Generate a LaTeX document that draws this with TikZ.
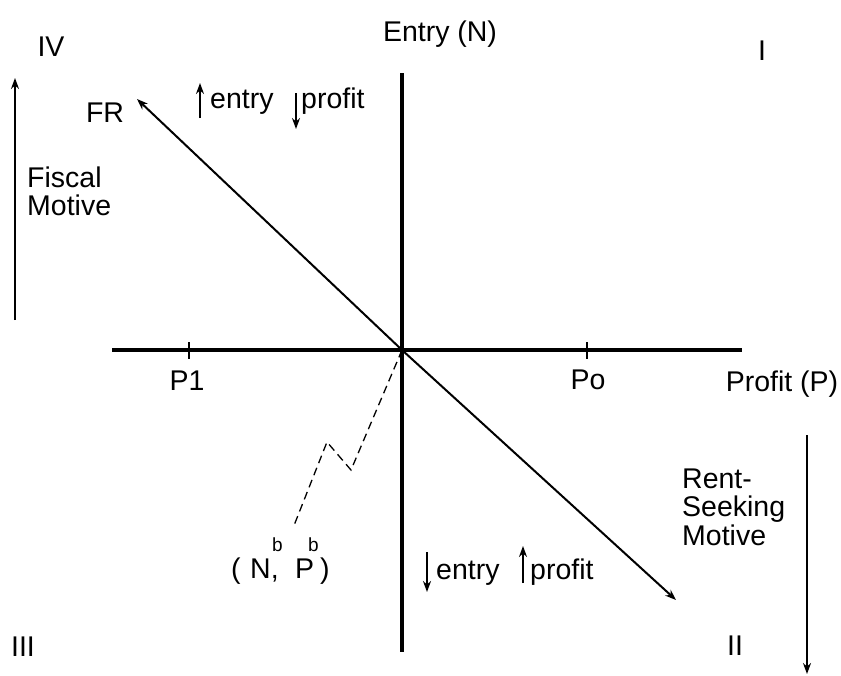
\documentclass[tikz,border=0pt]{standalone}
\usepackage{fontspec}
\setmainfont{Liberation Sans}
\usetikzlibrary{arrows.meta}
\begin{document}
\begin{tikzpicture}[x=1pt,y=-1pt,
  lbl/.style={inner sep=0pt,font=\fontsize{28.5}{28.5}\selectfont},
  sup/.style={inner sep=0pt,font=\fontsize{19}{19}\selectfont},
  axis/.style={line width=4pt},
  arr/.style={line width=2pt,-{Stealth[length=11pt,width=8pt]}},
  small/.style={line width=2pt,-{Stealth[length=11pt,width=8pt]}},
  tick/.style={line width=2pt}]
\useasboundingbox (0,0) rectangle (841,675);
% axes
\coordinate (Vt) at (402,73);
\coordinate (Vb) at (402,652);
\coordinate (Hl) at (112,350);
\coordinate (Hr) at (742,350);
\coordinate (O) at (402,350);
\draw[axis] (Vt) -- (Vb);
\draw[axis] (Hl) -- (Hr);
% ticks
\coordinate (T1a) at (189,342); \coordinate (T1b) at (189,359);
\coordinate (T2a) at (587,342); \coordinate (T2b) at (587,359);
\draw[tick] (T1a) -- (T1b);
\draw[tick] (T2a) -- (T2b);
% labels
\node[lbl,anchor=base] (entryN) at (440,41) {Entry (N)};
\node[lbl,anchor=base] (IV) at (51,56) {IV};
\node[lbl,anchor=base] (I) at (762,60) {I};
\node[lbl,anchor=base] (III) at (23,656) {III};
\node[lbl,anchor=base] (II) at (735,655) {II};
\node[lbl,anchor=base] (FR) at (105,122) {FR};
\node[lbl,anchor=base] (P1) at (187,390) {P1};
\node[lbl,anchor=base] (Po) at (588,389) {Po};
\node[lbl,anchor=base] (profitP) at (782,391) {Profit (P)};
% diagonal
\coordinate (FRend) at (137,99);
\coordinate (IIend) at (676,600);
\draw[arr] (O) -- (FRend);
\draw[arr] (O) -- (IIend);
% motives
\coordinate (FMb) at (15,320); \coordinate (FMt) at (15,78);
\draw[arr] (FMb) -- (FMt);
\node[lbl,anchor=west,align=left,font=\fontsize{28.5}{28}\selectfont] (fiscal) at (27,191) {Fiscal\\Motive};
\coordinate (RMt) at (807,435); \coordinate (RMb) at (807,674);
\draw[arr] (RMt) -- (RMb);
\node[lbl,anchor=west,align=left,font=\fontsize{28.5}{28.5}\selectfont] (rent) at (682,507) {Rent-\\Seeking\\Motive};
% top entry/profit
\coordinate (ua1) at (200,118); \coordinate (ua2) at (200,83);
\draw[small] (ua1) -- (ua2);
\node[lbl,anchor=base west] (topentry) at (210,108) {entry};
\coordinate (da1) at (296,93); \coordinate (da2) at (296,129);
\draw[small] (da1) -- (da2);
\node[lbl,anchor=base west] (topprofit) at (301,108) {profit};
% bottom entry/profit
\coordinate (db1) at (427,552); \coordinate (db2) at (427,592);
\draw[small] (db1) -- (db2);
\node[lbl,anchor=base west] (botentry) at (436,579) {entry};
\coordinate (ub1) at (523,583); \coordinate (ub2) at (523,546);
\draw[small] (ub1) -- (ub2);
\node[lbl,anchor=base west] (botprofit) at (530,579) {profit};
% dashed path
\coordinate (d1) at (351,470);
\coordinate (d2) at (327,442);
\coordinate (d3) at (293,528);
\draw[line width=1.3pt,dash pattern=on 8pt off 5pt] (O) -- (d1) -- (d2) -- (d3);
% (N^b, P^b)
\node[lbl,anchor=base west] (lp) at (231,578) {(};
\node[lbl,anchor=base west] (Nc) at (250,578) {N,};
\node[lbl,anchor=base west] (Pp) at (295,578) {P};
\node[lbl,anchor=base west] (rp) at (320,578) {)};
\node[sup,anchor=base west] (b1) at (272,551) {b};
\node[sup,anchor=base west] (b2) at (308,551) {b};
\end{tikzpicture}
\end{document}
